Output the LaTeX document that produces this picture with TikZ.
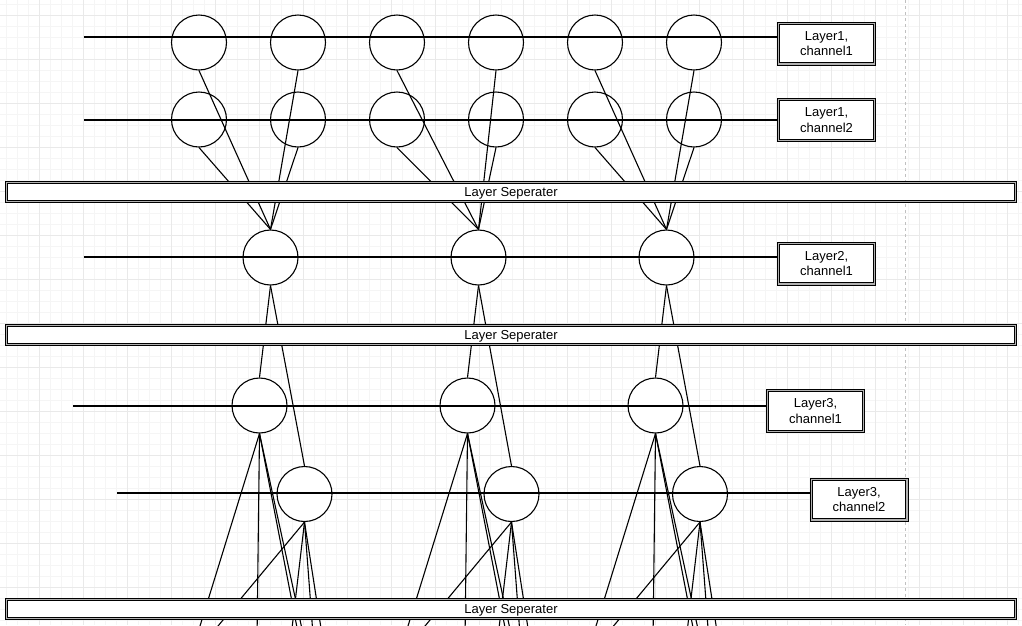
\documentclass[tikz,border=0pt]{standalone}
\usepackage{fontspec}
\setmainfont{Liberation Sans}
\definecolor{gridmin}{HTML}{F5F5F5}
\definecolor{gridmaj}{HTML}{E9E9E9}
\definecolor{pageline}{HTML}{C0C0C0}
\begin{document}
\begin{tikzpicture}
	[x=1pt,y=-1pt,
	cell/.style={circle,draw,fill=white,minimum size=55pt,inner sep=0pt,line width=1.1pt},
	label/.style={rectangle,draw,fill=white,line width=1pt,double=gray!60,double distance=1.4pt,
		minimum width=95.6pt,minimum height=40.6pt,inner sep=1pt,align=center,font=\fontsize{13}{15.5}\selectfont},
	sep/.style={rectangle,draw,fill=white,line width=1pt,double=gray!60,double distance=1.4pt,
		minimum width=1008.6pt,minimum height=18.6pt,inner sep=0pt,text height=9.5pt,text depth=1pt,
		font=\fontsize{13}{15}\selectfont},
	wire/.style={line width=1.1pt}]
	\useasboundingbox (0,0) rectangle (1022,625);
	\fill[white] (0,0) rectangle (1022,625);
	% grid
	\foreach \x in {6,17,...,1022} \draw[gridmin,line width=0.8pt] (\x,0) -- (\x,625);
	\foreach \y in {4,15,...,625} \draw[gridmin,line width=0.8pt] (0,\y) -- (1022,\y);
	\foreach \x in {39,83,...,1022} \draw[gridmaj,line width=0.8pt] (\x,0) -- (\x,625);
	\foreach \y in {15,59,...,625} \draw[gridmaj,line width=0.8pt] (0,\y) -- (1022,\y);
	\draw[pageline,dash pattern=on 3pt off 3pt,line width=0.8pt] (905,0) -- (905,625);
	% layer 1
	\node[cell,name=a1]at(199,42.5){};
	\node[cell,name=a2]at(298,42.5){};
	\node[cell,name=a3]at(397,42.5){};
	\node[cell,name=a4]at(496,42.5){};
	\node[cell,name=a5]at(595,42.5){};
	\node[cell,name=a6]at(694,42.5){};
	\node[cell,name=b1]at(199,119.5){};
	\node[cell,name=b2]at(298,119.5){};
	\node[cell,name=b3]at(397,119.5){};
	\node[cell,name=b4]at(496,119.5){};
	\node[cell,name=b5]at(595,119.5){};
	\node[cell,name=b6]at(694,119.5){};
	% layer 2
	\node[cell,name=c1]at(270.5,257.5){};
	\node[cell,name=c2]at(478.5,257.5){};
	\node[cell,name=c3]at(666.5,257.5){};
	% layer 3
	\node[cell,name=d1]at(259.5,405.5){};
	\node[cell,name=d2]at(467.5,405.5){};
	\node[cell,name=d3]at(655.5,405.5){};
	\node[cell,name=e1]at(304.5,494){};
	\node[cell,name=e2]at(511.5,494){};
	\node[cell,name=e3]at(700,494){};
	% channel labels
	\node[label,name=lab1]at(826.5,43.5){Layer1,\\channel1};
	\node[label,name=lab2]at(826.5,120){Layer1,\\channel2};
	\node[label,name=lab3]at(826.5,263.5){Layer2,\\channel1};
	\node[label,name=lab4]at(815.5,411){Layer3,\\channel1};
	\node[label,name=lab5]at(859,499.5){Layer3,\\channel2};
	% channel lines
	\coordinate (s1) at (84,37);
	\coordinate (s2) at (84,120);
	\coordinate (s3) at (84,257);
	\coordinate (s4) at (73,406);
	\coordinate (s5) at (117,493);
	\draw[wire](s1) -- (s1 -| lab1.west);
	\draw[wire](s2) -- (s2 -| lab2.west);
	\draw[wire](s3) -- (s3 -| lab3.west);
	\draw[wire](s4) -- (s4 -| lab4.west);
	\draw[wire](s5) -- (s5 -| lab5.west);
	% layer 1 -> layer 2
	\draw[wire](a1.south) -- (c1.north);
	\draw[wire](a2.south) -- (c1.north);
	\draw[wire](b1.south) -- (c1.north);
	\draw[wire](b2.south) -- (c1.north);
	\draw[wire](a3.south) -- (c2.north);
	\draw[wire](a4.south) -- (c2.north);
	\draw[wire](b3.south) -- (c2.north);
	\draw[wire](b4.south) -- (c2.north);
	\draw[wire](a5.south) -- (c3.north);
	\draw[wire](a6.south) -- (c3.north);
	\draw[wire](b5.south) -- (c3.north);
	\draw[wire](b6.south) -- (c3.north);
	% layer 2 -> layer 3
	\draw[wire](c1.south) -- (d1.north);
	\draw[wire](c1.south) -- (e1.north);
	\draw[wire](c2.south) -- (d2.north);
	\draw[wire](c2.south) -- (e2.north);
	\draw[wire](c3.south) -- (d3.north);
	\draw[wire](c3.south) -- (e3.north);
	% layer 3 -> next layer
	\foreach \n in {1,2,3}{
		\foreach \dx/\k in {-64/1,-2.5/2,40/3,45/4}{
			\path (d\n.south) ++(\dx,207) coordinate (dd\n\k);
			\draw[wire](d\n.south) -- (dd\n\k);}
		\foreach \dx/\k in {-99/1,-14/2,9/3,18.5/4}{
			\path (e\n.south) ++(\dx,119) coordinate (ee\n\k);
			\draw[wire](e\n.south) -- (ee\n\k);}
	}
	% separators
	\node[sep,name=sep1]at(511,192){Layer Seperater};
	\node[sep,name=sep2]at(511,335){Layer Seperater};
	\node[sep,name=sep3]at(511,609){Layer Seperater};
	\end{tikzpicture}
\end{document}
